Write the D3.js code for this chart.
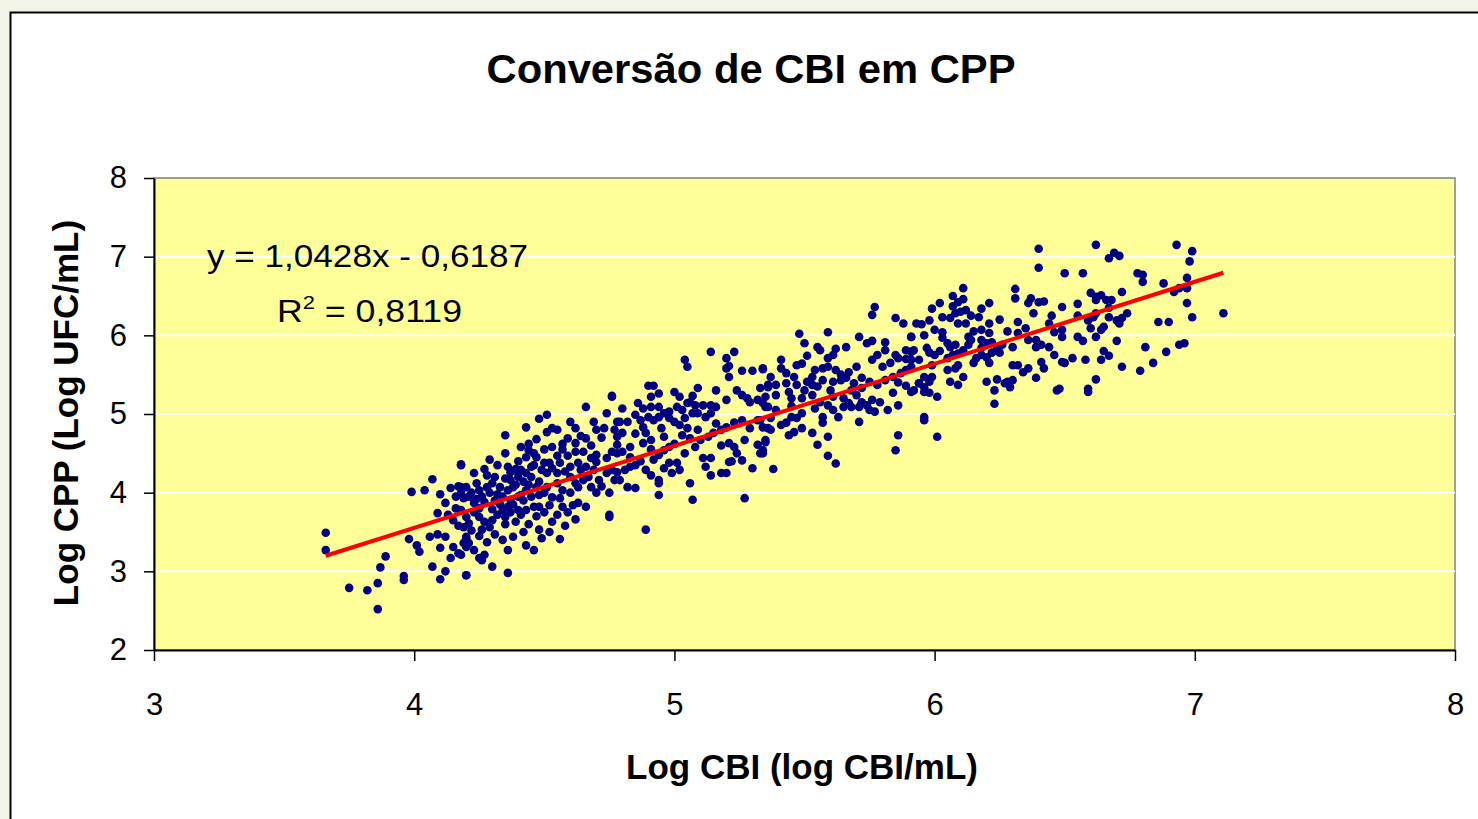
<!DOCTYPE html>
<html>
<head>
<meta charset="utf-8">
<script src="https://cdn.jsdelivr.net/npm/d3@7"></script>
<style>
  body { margin:0; background:#f3f5e8; }
  svg { display:block; font-family: Arial, "Liberation Sans", sans-serif; }
</style>
</head>
<body>
<div id="chart"></div>
<script>
const width = 1478;
const height = 819;

const title = "Conversão de CBI em CPP";
const xLabel = "Log CBI (log CBI/mL)";
const yLabel = "Log CPP (Log UFC/mL)";
const xTicks = [3,4,5,6,7,8];
const yTicks = [2,3,4,5,6,7,8];
const slope = 1.0428, intercept = -0.6187;
const eqText = "y = 1,0428x - 0,6187";
const r2Text = "0,8119";

// [Log CBI, Log CPP]
const points = [
  [3.66,3.49],[3.66,3.27],[3.75,2.79],[3.82,2.76],[3.86,2.85],[3.86,2.52],[3.87,3.05],[3.89,3.19],[3.96,2.94],[3.96,2.89],
  [3.98,3.41],[3.99,4.01],[4.04,4.03],[4.01,3.33],[4.02,3.25],[4.07,4.17],[4.07,3.06],[4.06,3.44],[4.09,3.47],[4.12,3.44],
  [4.10,3.98],[4.12,3.87],[4.09,3.74],[4.14,4.06],[4.17,4.08],[4.18,4.36],[4.10,3.30],[4.14,3.17],[4.12,3.00],[4.10,2.90],
  [4.16,3.80],[4.17,3.58],[4.15,3.31],[4.17,3.23],[4.19,3.36],[4.20,3.44],[4.19,3.93],[4.20,2.95],
  [4.76,5.23],[4.66,5.09],[4.74,5.01],[4.69,4.90],[4.70,4.80],[4.78,4.90],[4.73,4.82],[4.62,4.82],[4.64,4.72],[4.66,4.69],
  [4.59,4.69],[4.51,4.99],[4.48,4.94],[4.53,4.82],[4.51,4.77],[4.43,4.83],[4.47,4.68],[4.35,4.73],[4.53,4.58],[4.41,4.58],
  [4.44,4.54],[4.43,4.45],[4.46,4.35],[4.45,4.33],[4.55,4.47],[4.59,4.47],[4.62,4.52],[4.65,4.52],[4.63,4.38],[4.68,4.44],
  [4.70,4.39],[4.74,4.44],[4.76,4.52],[4.78,4.61],[4.29,4.42],[4.23,4.25],[4.18,4.35],[4.36,4.33],[4.37,4.26],[4.40,4.25],[4.41,4.29],
  [4.18,3.78],[4.20,3.69],[4.19,3.56],[4.21,3.61],[4.23,3.75],[4.25,3.69],[4.27,3.63],[4.26,3.53],[4.29,3.56],[4.30,3.65],
  [4.32,3.72],[4.34,3.78],[4.35,3.69],[4.37,3.75],[4.40,3.78],[4.41,3.72],[4.43,3.78],[4.46,3.82],[4.48,3.82],[4.50,3.75],
  [4.52,3.84],[4.53,3.94],[4.56,3.93],[4.57,3.82],[4.59,3.75],[4.61,3.84],[4.63,3.87],[4.66,3.82],[4.70,4.00],[4.75,3.72],
  [4.34,3.40],[4.38,3.44],[4.36,3.27],[4.43,3.33],[4.46,3.27],[4.48,3.53],[4.49,3.42],[4.56,3.41],
  [4.23,3.27],[4.25,3.17],[4.27,3.21],[4.26,3.14],[4.20,3.42],[4.21,3.36],[4.20,3.31],[4.18,3.21],[4.30,3.06],[4.20,2.95],[4.36,2.98],
  [4.18,4.00],[4.21,3.95],[4.25,4.03],[4.28,4.07],[4.30,4.12],[4.33,4.07],[4.36,4.03],[4.38,4.07],[4.34,3.95],[4.40,3.95],
  [4.37,3.91],[4.41,3.97],[4.43,4.03],[4.45,3.95],[4.47,4.07],[4.50,4.00],[4.51,4.07],[4.55,4.12],[4.57,4.03],[4.48,4.14],
  [4.60,4.00],[4.63,4.07],[4.65,4.16],[4.68,4.07],[4.71,4.16],[4.74,4.25],[4.76,4.29],
  [4.37,4.16],[4.40,4.20],[4.42,4.14],[4.45,4.20],[4.51,4.25],[4.53,4.31],[4.50,4.38],[4.52,4.38],[4.56,4.38],[4.60,4.33],
  [4.64,4.29],[4.66,4.33],[4.69,4.29],[4.24,4.12],[4.20,4.07],[4.18,4.07],
  [4.27,3.88],[4.31,3.90],[4.29,4.00],[4.33,3.85],[4.38,3.85],[4.26,3.95],[4.31,4.20],[4.35,4.18],[4.28,4.22],[4.39,4.10],
  [4.44,4.10],[4.32,3.98],[4.23,3.87],[4.25,3.80],[4.35,3.60],[4.39,3.63],[4.44,3.60],[4.42,3.50],[4.31,3.47],[4.28,3.37],
  [4.25,3.45],[4.22,3.52],[4.15,3.65],[4.13,3.72],[4.22,4.00],[4.16,3.95],[4.47,3.70],[4.53,3.63],[4.58,3.58],[4.62,3.66],
  [4.55,3.72],[4.52,3.50],[4.47,4.45],[4.57,4.55],[4.60,4.20],[4.67,4.20],[4.72,4.08],[4.58,4.27],[4.49,4.29],[4.40,4.40],
  [4.35,4.50],[4.44,4.62],[4.57,4.62],[4.62,4.63],
  [4.27,4.30],[4.32,4.35],[4.46,4.50],[4.50,4.55],[4.55,4.25],[4.48,3.97],[4.42,3.90],[4.36,3.82],[4.30,3.79],[4.24,3.92],
  [4.39,4.30],[4.43,4.25],[4.62,4.12],[4.70,4.48],[4.68,4.60],[4.55,4.80],[4.60,4.90],[4.72,4.70],
  [5.14,5.79],[5.23,5.79],[5.04,5.69],[5.05,5.60],[5.20,5.71],[5.20,5.58],[5.21,5.61],[5.21,5.47],[5.26,5.55],[5.30,5.55],
  [5.34,5.57],[5.36,5.34],[4.76,5.22],[4.90,5.36],[4.92,5.36],[4.91,5.22],[4.94,5.26],[5.09,5.33],[5.16,5.30],[5.00,5.28],
  [5.02,5.22],[5.07,5.23],[5.06,5.15],[5.24,5.30],[5.26,5.24],[5.28,5.20],[5.29,5.15],[5.20,5.18],[5.32,5.18],[5.34,5.14],
  [5.35,5.09],[4.86,5.14],[4.88,5.07],[4.80,5.07],[4.91,5.09],[4.94,5.09],[4.98,5.03],[5.01,5.09],[5.03,5.05],[5.05,5.14],
  [5.08,5.11],[5.11,5.11],[5.14,5.11],[5.16,5.09],[5.07,5.01],[5.09,5.01],[5.12,4.96],[5.14,5.01],
  [4.85,4.99],[4.87,4.92],[4.90,4.96],[4.92,4.92],[4.94,4.96],[4.96,5.01],[4.98,4.95],[5.00,4.90],[5.02,4.86],[5.04,4.95],
  [4.79,4.90],[4.82,4.90],[4.77,4.80],[4.78,4.71],[4.80,4.76],[4.88,4.83],[4.89,4.76],[4.91,4.67],[4.88,4.63],[4.95,4.82],[4.96,4.71],
  [5.03,4.73],[5.06,4.69],[5.10,4.67],[5.13,4.71],[5.15,4.76],[5.18,4.80],[5.20,4.83],[5.23,4.89],[5.21,4.63],[5.23,4.58],
  [5.24,4.50],[5.27,4.67],[5.26,4.92],[5.32,4.92],[5.34,4.83],[5.32,4.61],[5.33,4.50],[5.35,4.64],[5.29,4.82],
  [5.11,4.44],[5.14,4.44],[5.12,4.33],[5.21,4.39],[5.26,4.41],[5.18,4.25],[5.20,4.25],[5.14,4.22],[5.30,4.31],[5.06,4.12],[5.07,3.91],[5.27,3.93],
  [4.98,4.38],[5.01,4.38],[4.99,4.25],[5.02,4.29],[4.89,4.29],[4.91,4.22],[4.92,4.42],[4.94,4.48],[4.96,4.54],[4.98,4.58],
  [4.94,4.12],[4.94,4.16],[4.94,3.97],[4.96,4.31],
  [4.75,4.29],[4.78,4.26],[4.81,4.29],[4.83,4.33],[4.85,4.35],[4.78,4.50],[4.80,4.52],[4.83,4.58],[4.77,4.16],[4.79,4.16],
  [4.82,4.07],[4.85,4.06],[4.75,4.00],[4.89,3.53],[4.75,3.69],
  [4.85,4.75],[4.83,4.45],[4.87,4.40],[4.91,4.55],[5.05,4.82],[5.09,4.80],[5.16,4.88],[5.18,4.60],[5.22,4.40],[5.00,4.62],
  [5.04,4.50],[5.08,4.58],
  [5.77,6.36],[5.76,6.26],[5.85,6.22],[5.88,6.15],[5.93,6.15],[5.91,5.98],[5.48,6.02],[5.59,6.04],[5.50,5.90],[5.55,5.85],
  [5.56,5.81],[5.62,5.83],[5.66,5.85],[5.71,5.98],[5.74,5.90],[5.76,5.93],[5.81,5.91],[5.81,5.81],[5.78,5.75],[5.76,5.69],
  [5.85,5.75],[5.86,5.71],[5.89,5.81],[5.91,5.79],[5.94,5.69],[5.89,5.70],[5.51,5.74],[5.41,5.69],[5.34,5.58],[5.37,5.47],
  [5.41,5.58],[5.43,5.52],[5.47,5.62],[5.49,5.64],[5.46,5.47],[5.54,5.56],[5.57,5.58],[5.59,5.60],[5.59,5.71],[5.61,5.75],
  [5.62,5.56],[5.64,5.50],[5.67,5.53],[5.70,5.60],[5.53,5.47],[5.51,5.41],[5.53,5.37],[5.36,5.37],[5.39,5.37],[5.43,5.39],[5.47,5.37],
  [5.57,5.43],[5.61,5.41],[5.64,5.43],[5.66,5.46],[5.69,5.39],[5.72,5.46],[5.75,5.41],[5.78,5.37],[5.81,5.43],[5.84,5.47],
  [5.87,5.52],[5.89,5.56],[5.33,5.33],[5.35,5.22],[5.39,5.24],[5.44,5.28],[5.45,5.20],
  [5.49,5.20],[5.53,5.24],[5.56,5.15],[5.59,5.11],[5.61,5.22],[5.65,5.20],[5.67,5.14],[5.70,5.24],[5.72,5.15],[5.74,5.11],
  [5.76,5.18],[5.79,5.15],[5.82,5.05],[5.84,5.27],[5.86,5.11],[5.89,5.36],[5.92,5.30],[5.94,5.39],
  [5.36,5.09],[5.39,5.05],[5.37,4.95],[5.33,4.92],[5.45,4.96],[5.47,4.95],[5.49,5.01],[5.43,4.89],[5.41,4.86],[5.54,5.07],
  [5.57,4.96],[5.57,4.89],[5.61,5.05],[5.63,4.96],[5.65,5.09],[5.68,5.09],[5.71,5.09],[5.75,5.05],[5.77,5.03],[5.71,4.90],
  [5.36,4.82],[5.37,4.80],[5.49,4.82],[5.44,4.73],[5.46,4.77],[5.53,4.76],[5.59,4.71],[5.55,4.61],[5.59,4.47],[5.62,4.37],
  [5.35,4.67],[5.34,4.54],[5.34,4.50],[5.38,4.30],[5.86,4.73],[5.85,4.54],
  [5.45,5.10],[5.50,5.30],[5.55,5.35],[5.60,5.30],[5.68,5.30],[5.72,5.33],[5.80,5.60],[5.83,5.65],[5.86,5.40],
  [6.40,7.10],[6.40,6.86],[6.50,6.79],[6.11,6.60],[6.31,6.59],[6.31,6.47],[6.07,6.50],[6.09,6.42],[6.11,6.46],[6.07,6.37],
  [6.10,6.30],[6.08,6.28],[6.06,6.22],[6.03,6.23],[6.02,6.41],[5.99,6.34],[5.98,6.19],[5.95,6.14],[6.00,6.07],[5.96,6.00],
  [6.12,6.32],[6.14,6.25],[6.17,6.23],[6.18,6.34],[6.21,6.41],[6.09,6.15],[6.12,6.15],[6.21,6.15],[6.21,6.03],[6.18,6.07],
  [6.18,5.94],[6.32,6.17],[6.35,6.09],[6.32,6.03],[6.36,6.41],[6.37,6.47],[6.40,6.42],[6.42,6.43],[6.38,6.28],[6.49,6.36],
  [6.46,6.04],[6.49,6.07],[6.49,5.98],
  [6.03,6.04],[6.03,5.97],[6.05,5.90],[6.06,5.85],[6.08,5.88],[6.07,5.75],[6.05,5.71],[5.91,5.98],[5.92,5.81],[5.91,5.69],
  [5.91,5.60],[5.97,5.84],[5.98,5.78],[5.99,5.62],[5.96,5.47],[5.99,5.47],[5.98,5.41],[5.96,5.34],[5.94,5.39],[5.91,5.28],
  [5.96,5.28],[5.98,5.27],[6.01,5.22],[5.96,4.96],[5.96,4.92],[6.01,4.71],
  [6.13,5.98],[6.14,5.94],[6.11,5.81],[6.09,5.77],[6.18,5.84],[6.20,5.90],[6.22,5.91],[6.24,5.84],[6.26,5.88],[6.25,5.78],
  [6.22,5.78],[6.20,5.72],[6.18,5.75],[6.16,5.71],[6.15,5.65],[6.09,5.62],[6.05,5.56],[6.08,5.58],[6.06,5.41],[6.11,5.47],
  [6.09,5.37],[6.21,5.65],[6.30,5.85],[6.30,5.62],[6.32,5.62],[6.36,5.94],[6.39,5.94],[6.41,5.88],[6.39,5.85],[6.44,5.85],
  [6.46,5.75],[6.41,5.66],[6.42,5.58],[6.49,5.66],[6.36,5.58],[6.34,5.53],
  [6.20,5.41],[6.24,5.44],[6.23,5.30],[6.28,5.41],[6.29,5.34],[6.27,5.39],[6.30,5.43],[6.23,5.13],[6.39,5.46],[6.47,5.30],
  [6.00,5.75],[6.02,5.80],[6.13,5.88],[6.15,6.05],[6.25,6.20],[6.28,6.05],[6.44,6.15],[6.45,6.25],
  [6.62,7.15],[6.93,7.15],[6.69,7.05],[6.67,6.98],[6.71,7.01],[6.99,7.07],[6.98,6.94],[6.57,6.79],[6.78,6.79],[6.80,6.77],
  [6.80,6.68],[6.88,6.66],[6.97,6.73],[6.97,6.60],[6.94,6.60],[6.92,6.55],[6.60,6.54],[6.62,6.49],[6.64,6.51],[6.62,6.45],
  [6.66,6.45],[6.68,6.45],[6.67,6.35],[6.72,6.55],[6.97,6.41],[7.11,6.28],[6.99,6.23],[6.86,6.17],[6.90,6.17],[6.59,6.19],
  [6.61,6.23],[6.62,6.28],[6.67,6.23],[6.70,6.19],[6.72,6.22],[6.74,6.28],[6.71,6.15],[6.60,6.09],[6.65,6.11],[6.64,6.07],
  [6.55,5.98],[6.57,5.93],[6.62,5.98],[6.70,5.93],[6.81,5.85],[6.89,5.79],[6.94,5.88],[6.96,5.90],[6.65,5.80],[6.67,5.74],
  [6.64,5.69],[6.53,5.71],[6.50,5.65],[6.58,5.69],[6.72,5.60],[6.79,5.55],[6.84,5.65],[6.62,5.44],[6.59,5.32],[6.59,5.28],[6.48,5.32],
  [6.55,6.25],[6.55,6.40]
];

const svg = d3.select("#chart").append("svg")
  .attr("width", width)
  .attr("height", height);

// chart frame
svg.append("rect")
  .attr("x", 10.5).attr("y", 12.5)
  .attr("width", width + 20).attr("height", height + 20)
  .attr("fill", "#fff").attr("stroke", "#000").attr("stroke-width", 2);

const x = d3.scaleLinear().domain([3, 8]).range([154, 1455]);
const y = d3.scaleLinear().domain([2, 8]).range([650, 178]);

// plot area
svg.append("rect")
  .attr("x", x(3)).attr("y", y(8))
  .attr("width", x(8) - x(3)).attr("height", y(2) - y(8))
  .attr("fill", "#ffff99").attr("stroke", "#808080").attr("stroke-width", 1.5);

svg.append("g")
  .selectAll("line")
  .data(yTicks.slice(1, -1))
  .join("line")
  .attr("x1", x(3)).attr("x2", x(8))
  .attr("y1", d => y(d)).attr("y2", d => y(d))
  .attr("stroke", "#fff").attr("stroke-width", 2);

const fmt = d3.format("d");
const xAxis = svg.append("g")
  .attr("transform", `translate(0,${y(2)})`)
  .call(d3.axisBottom(x).tickValues(xTicks).tickFormat(fmt).tickSize(11).tickSizeOuter(0).tickPadding(32));
const yAxis = svg.append("g")
  .attr("transform", `translate(${x(3)},0)`)
  .call(d3.axisLeft(y).tickValues(yTicks).tickFormat(fmt).tickSize(10).tickSizeOuter(0).tickPadding(17));

[xAxis, yAxis].forEach(g => {
  g.select(".domain").attr("stroke", "#000").attr("stroke-width", 2);
  g.selectAll(".tick line").attr("stroke", "#000").attr("stroke-width", 1.5);
  g.selectAll(".tick text")
    .attr("fill", "#000")
    .style("font-size", "31px")
    .style("font-family", "Arial, 'Liberation Sans', sans-serif");
});

// points
svg.append("g")
  .selectAll("circle")
  .data(points)
  .join("circle")
  .attr("cx", d => x(d[0]))
  .attr("cy", d => y(d[1]))
  .attr("r", 4.3)
  .attr("fill", "#000080");

// linear trend line
const ext = d3.extent(points, d => d[0]);
svg.append("line")
  .attr("x1", x(ext[0])).attr("y1", y(slope * ext[0] + intercept))
  .attr("x2", x(ext[1])).attr("y2", y(slope * ext[1] + intercept))
  .attr("stroke", "#ff0000").attr("stroke-width", 4);

// equation
svg.append("text")
  .attr("x", 207).attr("y", 267)
  .attr("textLength", 321).attr("lengthAdjust", "spacingAndGlyphs")
  .style("font-size", "31px")
  .text(eqText);

const r2 = svg.append("text")
  .attr("x", 277).attr("y", 322)
  .attr("textLength", 185).attr("lengthAdjust", "spacingAndGlyphs")
  .style("font-size", "31px");
r2.append("tspan").text("R");
r2.append("tspan").attr("dy", -13).style("font-size", "19px").text("2");
r2.append("tspan").attr("dy", 13).text(" = " + r2Text);

// titles
svg.append("text")
  .attr("x", 751).attr("y", 83)
  .attr("text-anchor", "middle")
  .attr("textLength", 529).attr("lengthAdjust", "spacingAndGlyphs")
  .style("font-size", "40px").style("font-weight", "bold")
  .text(title);

svg.append("text")
  .attr("x", 802).attr("y", 779)
  .attr("text-anchor", "middle")
  .style("font-size", "35px").style("font-weight", "bold")
  .text(xLabel);

svg.append("text")
  .attr("transform", "translate(78,413) rotate(-90)")
  .attr("text-anchor", "middle")
  .style("font-size", "35px").style("font-weight", "bold")
  .text(yLabel);
</script>
</body>
</html>
